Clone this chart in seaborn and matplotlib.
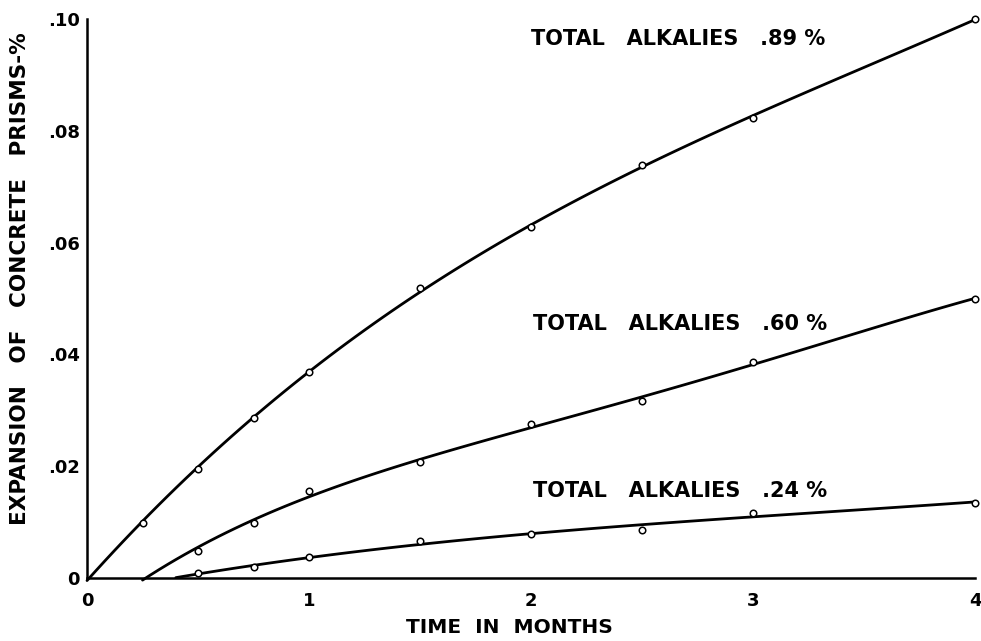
import matplotlib
matplotlib.use("Agg")
import matplotlib.pyplot as plt
import seaborn as sns
import pandas as pd

# Measured expansion (%) of concrete prisms versus age (months)
months = [0.25, 0.5, 0.75, 1.0, 1.5, 2.0, 2.5, 3.0, 4.0]
exp_089 = [0.0098, 0.0195, 0.0287, 0.0368, 0.0519, 0.0628, 0.0739, 0.0823, 0.1000]
exp_060 = [None, 0.0049, 0.0099, 0.0156, 0.0207, 0.0275, 0.0316, 0.0386, 0.0500]
exp_024 = [None, 0.0009, 0.0019, 0.0037, 0.0066, 0.0078, 0.0086, 0.0117, 0.0135]

# Where each curve leaves the time axis
onset_month = {"089": 0.0, "060": 0.25, "024": 0.40}
# Polynomial order of the smoothing curve drawn through each series
fit_order = {"089": 3, "060": 4, "024": 3}

series_labels = {"089": "TOTAL   ALKALIES   .89 %",
                 "060": "TOTAL   ALKALIES   .60 %",
                 "024": "TOTAL   ALKALIES   .24 %"}
series_values = {"089": exp_089, "060": exp_060, "024": exp_024}

x_ticks = [0, 1, 2, 3, 4]
x_ticklabels = ["0", "1", "2", "3", "4"]
y_ticks = [0, 0.02, 0.04, 0.06, 0.08, 0.10]
y_ticklabels = ["0", ".02", ".04", ".06", ".08", ".10"]

sns.set_theme(style="white")
plt.rcParams["font.family"] = ["DejaVu Sans"]

fig = plt.figure(figsize=(9.81, 6.41), dpi=100)
ax = fig.add_axes([0.0887, 0.0983, 0.9052, 0.8720])

rows = []
for key, vals in series_values.items():
    rows.append({"series": key, "month": onset_month[key], "expansion": 0.0, "measured": False})
    for m, v in zip(months, vals):
        if v is not None:
            rows.append({"series": key, "month": m, "expansion": v, "measured": True})
df = pd.DataFrame(rows)

for key in series_values:
    sub = df[df["series"] == key]
    # smooth curve fitted through the readings, starting at the onset point
    sns.regplot(data=sub, x="month", y="expansion", ax=ax, order=fit_order[key],
                ci=None, scatter=False, truncate=True,
                line_kws={"color": "black", "linewidth": 2.0, "clip_on": False})
    pts = sub[sub["measured"]]
    sns.scatterplot(data=pts, x="month", y="expansion", ax=ax, marker="o",
                    s=22, facecolor="white", edgecolor="black", linewidth=1.1,
                    zorder=5, clip_on=False)

ax.set_xlim(0, 4)
ax.set_ylim(0, 0.10)
ax.set_xticks(x_ticks)
ax.set_xticklabels(x_ticklabels)
ax.set_yticks(y_ticks)
ax.set_yticklabels(y_ticklabels)

sns.despine(ax=ax, top=True, right=True)
for s in ("left", "bottom"):
    ax.spines[s].set_color("black")
    ax.spines[s].set_linewidth(1.8)

ax.tick_params(axis="x", direction="in", length=9, width=1.5, colors="black",
               labelsize=13, pad=10)
ax.tick_params(axis="y", direction="in", length=6, width=1.5, colors="black",
               labelsize=13, pad=5)
for lab in ax.get_xticklabels() + ax.get_yticklabels():
    lab.set_fontweight("bold")
ax.xaxis.get_major_ticks()[0].tick1line.set_visible(False)
ax.yaxis.get_major_ticks()[0].tick1line.set_visible(False)

ax.set_xlabel("TIME  IN  MONTHS", fontsize=14.5, fontweight="bold", color="black")
ax.xaxis.set_label_coords(0.476, -0.072)
ax.set_ylabel("EXPANSION   OF   CONCRETE   PRISMS-%", fontsize=15.5,
              fontweight="bold", color="black")
ax.yaxis.set_label_coords(-0.064, 0.536)

label_pos = {"089": (2.0, 0.0965), "060": (2.01, 0.0454), "024": (2.01, 0.0155)}
for key, (lx, ly) in label_pos.items():
    ax.text(lx, ly, series_labels[key], fontsize=15, fontweight="bold",
            color="black", ha="left", va="center")

fig.savefig("out.png", dpi=100)
